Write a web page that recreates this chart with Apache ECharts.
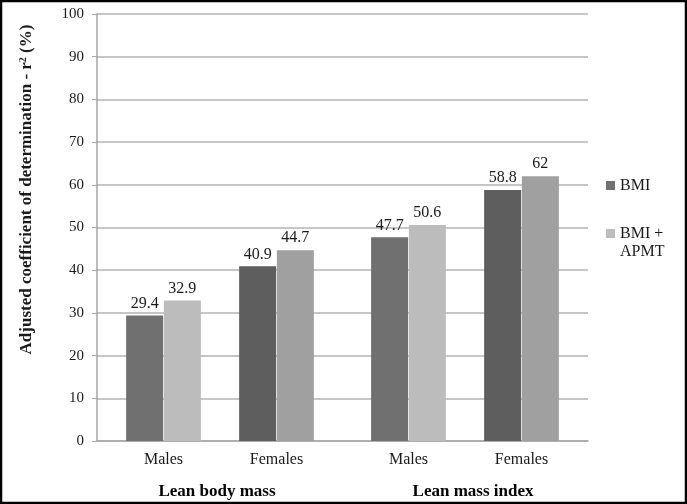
<!DOCTYPE html>
<html><head><meta charset="utf-8">
<script src="https://cdn.jsdelivr.net/npm/echarts@6/dist/echarts.min.js"></script>
<style>html,body{margin:0;padding:0;background:#fff}#c{width:687px;height:504px}</style>
</head><body><div id="c"></div>
<script>
const categories = ["Males", "Females"];
const groups = ["Lean body mass", "Lean mass index"];
const seriesNames = ["BMI", "BMI + APMT"];
// values per group: [Males, Females]
const bmiLeanBodyMass = [29.4, 40.9];
const apmtLeanBodyMass = [32.9, 44.7];
const bmiLeanMassIndex = [47.7, 58.8];
const apmtLeanMassIndex = [50.6, 62];
const yTicks = [0, 10, 20, 30, 40, 50, 60, 70, 80, 90, 100];

const font = "Liberation Serif";
const colorsBMI = ["#707070", "#5e5e5e"];
const colorsAPMT = ["#bcbcbc", "#a0a0a0"];

const chart = echarts.init(document.getElementById('c'), null, {renderer: 'canvas'});
function mk(vals, cols) {
  return vals.map((v, i) => ({value: v, itemStyle: {color: cols[i]}}));
}
const lbl = {show: true, position: 'top', distance: 4, color: '#1a1a1a', fontFamily: font, fontSize: 16,
  formatter: p => String(p.value)};
const yMin = yTicks[0], yMax = yTicks[yTicks.length - 1];
const hiddenY = (gi) => ({type: 'value', gridIndex: gi, min: yMin, max: yMax, show: false});
const subX = (gi) => ({
  type: 'category', gridIndex: gi, data: categories,
  axisLine: {show: false}, axisTick: {show: false},
  axisLabel: {fontFamily: font, fontSize: 16, color: '#1a1a1a', margin: 11}
});
chart.setOption({
  animation: false,
  textStyle: {fontFamily: font},
  graphic: [{type: 'rect', shape: {x: 1, y: 1, width: 685, height: 502}, style: {fill: 'none', stroke: '#000', lineWidth: 2.5}, z: 100}],
  grid: [
    {left: 97, right: 99, top: 14, bottom: 63},
    {left: 107, width: 226, top: 14, bottom: 63},
    {left: 352, width: 226, top: 14, bottom: 63},
    {left: 89, width: 512, top: 14, bottom: 63}
  ],
  legend: {
    orient: 'vertical', left: 606, top: 176.5, padding: 0, itemWidth: 9, itemHeight: 9, itemGap: 12, icon: 'rect',
    textStyle: {fontFamily: font, fontSize: 16, color: '#1a1a1a', lineHeight: 18},
    formatter: name => name === seriesNames[1] ? ' \nBMI +\nAPMT' : name,
    data: [
      {name: seriesNames[0], itemStyle: {color: '#707070'}},
      {name: seriesNames[1], itemStyle: {color: '#bcbcbc'}}
    ]
  },
  xAxis: [
    {type: 'category', gridIndex: 0, data: ['', '', '', ''],
      axisLine: {lineStyle: {color: '#a6a6a6', width: 1.5}}, axisTick: {show: false}, axisLabel: {show: false}},
    subX(1), subX(2),
    {type: 'category', gridIndex: 3, data: groups, offset: 31,
      axisLine: {show: false}, axisTick: {show: false},
      axisLabel: {fontFamily: font, fontSize: 17, fontWeight: 'bold', color: '#000', margin: 11}}
  ],
  yAxis: [{
    type: 'value', gridIndex: 0, min: yMin, max: yMax, interval: 10,
    name: 'Adjusted coefficient of determination - r{sup|2} (%)',
    nameLocation: 'middle', nameGap: 61, nameRotate: 90,
    nameTextStyle: {fontFamily: font, fontSize: 17, fontWeight: 'bold', color: '#1a1a1a', padding: [0, 0, 0, 76],
      rich: {sup: {fontSize: 10, fontWeight: 'bold', verticalAlign: 'top', padding: [0, 0, 8, 0], fontFamily: font}}},
    axisLine: {show: true, lineStyle: {color: '#a6a6a6', width: 1.5}},
    axisTick: {show: true, length: 5, lineStyle: {color: '#a6a6a6'}},
    axisLabel: {fontFamily: font, fontSize: 15, color: '#1a1a1a', margin: 13},
    splitLine: {lineStyle: {color: '#b3b3b3', width: 1.5}}
  }, hiddenY(1), hiddenY(2), hiddenY(3)],
  series: [
    {name: seriesNames[0], type: 'bar', xAxisIndex: 1, yAxisIndex: 1, barWidth: 37, barGap: '2%', data: mk(bmiLeanBodyMass, colorsBMI), label: lbl, itemStyle: {color: '#707070'}},
    {name: seriesNames[1], type: 'bar', xAxisIndex: 1, yAxisIndex: 1, barWidth: 37, barGap: '2%', data: mk(apmtLeanBodyMass, colorsAPMT), label: lbl, itemStyle: {color: '#bcbcbc'}},
    {name: seriesNames[0], type: 'bar', xAxisIndex: 2, yAxisIndex: 2, barWidth: 37, barGap: '2%', data: mk(bmiLeanMassIndex, colorsBMI), label: lbl, itemStyle: {color: '#707070'}},
    {name: seriesNames[1], type: 'bar', xAxisIndex: 2, yAxisIndex: 2, barWidth: 37, barGap: '2%', data: mk(apmtLeanMassIndex, colorsAPMT), label: lbl, itemStyle: {color: '#bcbcbc'}}
  ]
});
</script></body></html>
